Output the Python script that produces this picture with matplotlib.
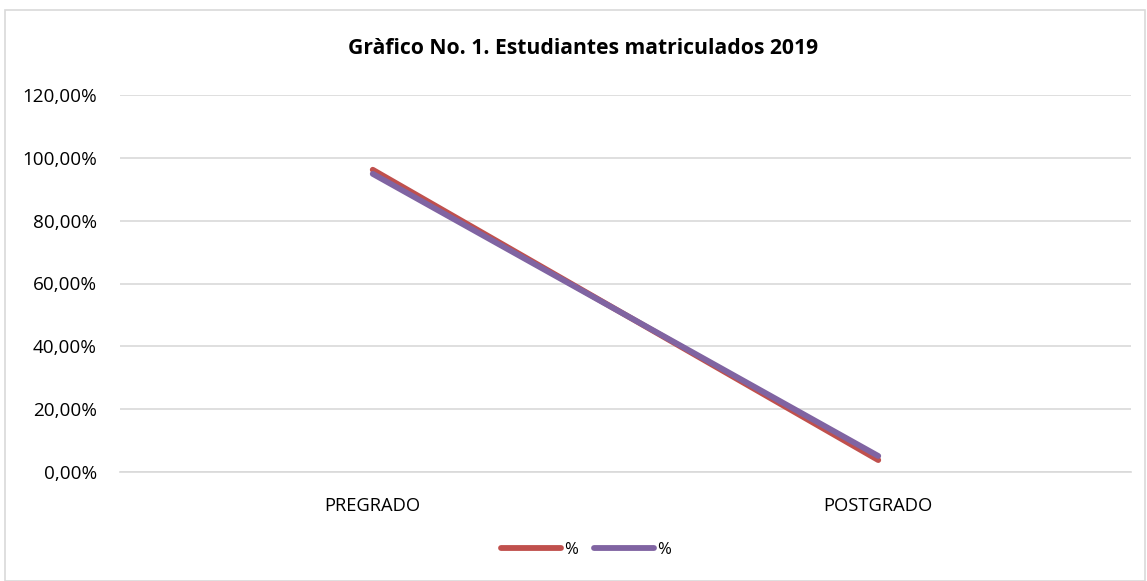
import matplotlib.pyplot as plt
from matplotlib.patches import Rectangle
from matplotlib.ticker import FuncFormatter

categories = ["PREGRADO", "POSTGRADO"]
serie_roja = [96.2, 3.8]
serie_morada = [94.9, 5.1]
y_ticks = [0, 20, 40, 60, 80, 100, 120]

ROJO = "#C0504D"
MORADO = "#8064A2"
GRIS = "#D9D9D9"
FONT = "Open Sans"

fig = plt.figure(figsize=(11.47, 5.81), dpi=100)
ax = fig.add_axes((120 / 1147, 1 - 472 / 581, 1011 / 1147, 377 / 581))

# marco exterior del grafico
fig.patches.append(Rectangle((5 / 1147, 0), 1140 / 1147, 1 - 10 / 581,
                             transform=fig.transFigure, fill=False,
                             edgecolor=GRIS, linewidth=1.2))

x = range(len(categories))
ax.plot(x, serie_roja, color=ROJO, linewidth=4.2, label="%",
        solid_capstyle="round", zorder=3)
ax.plot(x, serie_morada, color=MORADO, linewidth=4.2, label="%",
        solid_capstyle="round", zorder=4)

ax.set_xlim(-0.5, 1.5)
ax.set_ylim(0, 120)
ax.set_yticks(y_ticks)
ax.yaxis.set_major_formatter(
    FuncFormatter(lambda v, _: f"{v:.2f}".replace(".", ",") + "%"))
ax.set_xticks(list(x))
ax.set_xticklabels(categories)

ax.grid(axis="y", color=GRIS, linewidth=1.2)
ax.set_axisbelow(True)
for s in ["top", "right", "left"]:
    ax.spines[s].set_visible(False)
ax.spines["bottom"].set_color(GRIS)
ax.spines["bottom"].set_linewidth(1.2)
ax.tick_params(axis="y", length=0, labelsize=13.6, pad=16.5)
ax.tick_params(axis="x", length=0, labelsize=13.2, pad=18)
for lbl in ax.get_xticklabels() + ax.get_yticklabels():
    lbl.set_fontfamily(FONT)

fig.text(583 / 1147, 1 - 48 / 581,
         "Gràfico No. 1. Estudiantes matriculados 2019",
         ha="center", va="center", fontsize=15.2, fontweight="bold",
         family=FONT, color="black")

fig.legend(loc="center", bbox_to_anchor=(586 / 1147, 1 - 550 / 581),
           ncol=2, frameon=False, handlelength=3.6, columnspacing=1.0,
           handletextpad=0.15, prop={"family": FONT, "size": 12})

fig.savefig("out.png", dpi=100)
